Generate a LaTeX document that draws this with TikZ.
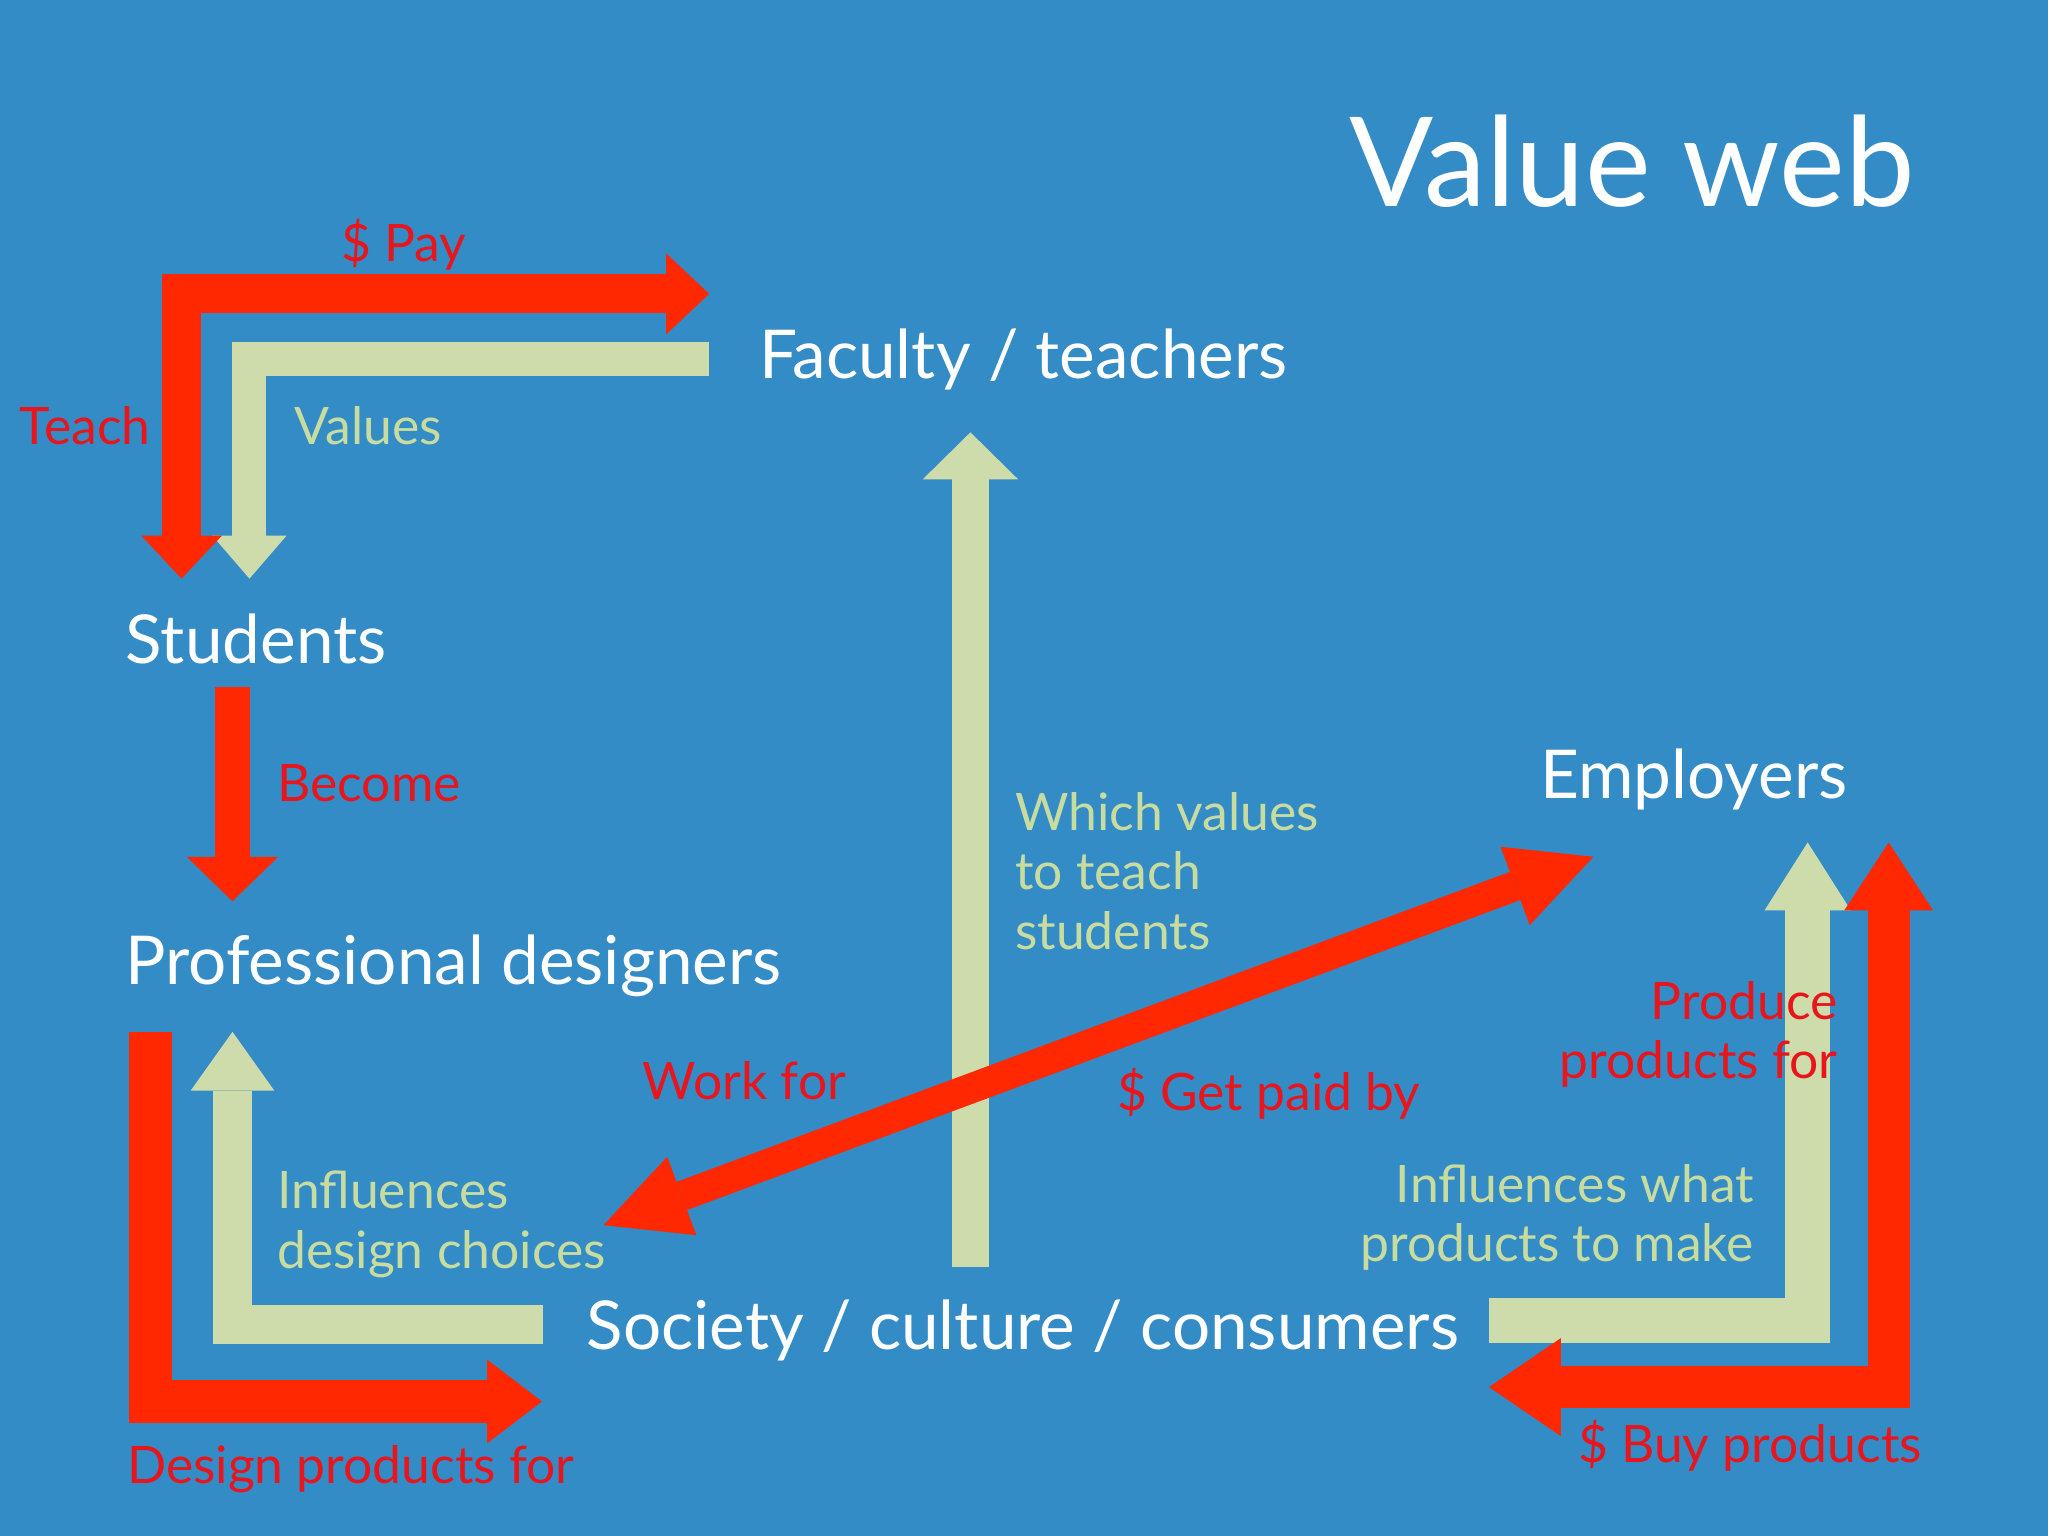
\documentclass[tikz,border=0pt]{standalone}
\usepackage{fontspec}
\setmainfont{Lato}
\usetikzlibrary{arrows.meta}
\definecolor{bgblue}{RGB}{52,140,199}
\definecolor{arrowred}{RGB}{255,40,0}
\definecolor{textred}{RGB}{232,22,28}
\definecolor{cream}{RGB}{205,220,170}
\definecolor{creamtext}{RGB}{200,220,160}
\begin{document}
\begin{tikzpicture}[x=0.025cm,y=-0.025cm,
  titletext/.style={text=white,inner sep=0pt,anchor=base west,font=\fontsize{67.7}{70}\selectfont},
  maintext/.style={text=white,inner sep=0pt,anchor=base west,font=\fontsize{36.7}{44}\selectfont},
  redlabel/.style={text=textred,inner sep=0pt,anchor=base west,font=\fontsize{28.1}{32.5}\selectfont},
  creamlabel/.style={text=creamtext,inner sep=0pt,anchor=base west,font=\fontsize{28.1}{32.5}\selectfont},
  redflow/.style={draw=arrowred,line join=miter,line cap=butt},
  creamflow/.style={draw=cream,line join=miter,line cap=butt}]
\useasboundingbox (0,0) rectangle (1568,1176);
\fill[bgblue] (0,0) rectangle (1568,1176);

% arrow end points
\coordinate (a1) at (139,443); \coordinate (a2) at (139,225); \coordinate (a3) at (543,225);
\coordinate (b1) at (543,275); \coordinate (b2) at (191,275); \coordinate (b3) at (191,443);
\coordinate (c1) at (178,526); \coordinate (c2) at (178,690);
\coordinate (d1) at (115,790); \coordinate (d2) at (115,1073); \coordinate (d3) at (415,1073);
\coordinate (e1) at (416,1014); \coordinate (e2) at (178,1014); \coordinate (e3) at (178,790);
\coordinate (f1) at (743,970); \coordinate (f2) at (743,331);
\coordinate (g1) at (462,938); \coordinate (g2) at (1220,656);
\coordinate (h1) at (1140,1011); \coordinate (h2) at (1384,1011); \coordinate (h3) at (1384,645);
\coordinate (i1) at (1140,1062); \coordinate (i2) at (1446,1062); \coordinate (i3) at (1446,645);

% arrows
\draw[creamflow,line width=0.65cm,-{Triangle[width=1.425cm,length=0.825cm,line width=0pt]}] (b1) -- (b2) -- (b3);
\draw[redflow,line width=0.75cm,{Triangle[width=1.55cm,length=0.825cm,line width=0pt]}-{Triangle[width=1.55cm,length=0.825cm,line width=0pt]}] (a1) -- (a2) -- (a3);
\draw[redflow,line width=0.675cm,-{Triangle[width=1.75cm,length=0.85cm,line width=0pt]}] (c1) -- (c2);
\draw[redflow,line width=0.825cm,-{Triangle[width=1.6cm,length=1.05cm,line width=0pt]}] (d1) -- (d2) -- (d3);
\draw[creamflow,line width=0.75cm,-{Triangle[width=1.6cm,length=1.125cm,line width=0pt]}] (e1) -- (e2) -- (e3);
\draw[creamflow,line width=0.7cm,-{Triangle[width=1.825cm,length=0.9cm,line width=0pt]}] (f1) -- (f2);
\draw[redflow,line width=0.575cm,{Triangle[width=1.6cm,length=1.6cm,line width=0pt]}-{Triangle[width=1.6cm,length=1.6cm,line width=0pt]}] (g1) -- (g2);
\draw[creamflow,line width=0.85cm,-{Triangle[width=1.65cm,length=1.3cm,line width=0pt]}] (h1) -- (h2) -- (h3);
\draw[redflow,line width=0.8cm,{Triangle[width=1.875cm,length=1.375cm,line width=0pt]}-{Triangle[width=1.7cm,length=1.3cm,line width=0pt]}] (i1) -- (i2) -- (i3);

% main nodes
\node[titletext] (title) at (1033,158) {Value web};
\node[maintext] (faculty) at (581,290) {Faculty / teachers};
\node[maintext] (students) at (96,508) {Students};
\node[maintext] (employers) at (1179,611) {Employers};
\node[maintext] (designers) at (96,754) {Professional designers};
\node[maintext] (society) at (449,1033) {Society / culture / consumers};

% labels (multi-line nodes are placed by the baseline of their last line)
\node[redlabel] (pay) at (261,200) {\$ Pay};
\node[redlabel] (teach) at (15,340) {Teach};
\node[creamlabel] (values) at (225,340) {Values};
\node[redlabel] (become) at (212,614) {Become};
\node[creamlabel,align=left] (which) at (777,727) {Which values\\to teach\\students};
\node[redlabel] (workfor) at (492,842) {Work for};
\node[redlabel] (getpaid) at (855,850) {\$ Get paid by};
\node[redlabel,align=right,anchor=base east] (produce) at (1407,826) {Produce\\products for};
\node[creamlabel,align=right,anchor=base east] (influwhat) at (1343,966) {Influences what\\products to make};
\node[creamlabel,align=left] (infludesign) at (212,971) {Influences\\design choices};
\node[redlabel] (designfor) at (97,1136) {Design products for};
\node[redlabel] (buy) at (1208,1120) {\$ Buy products};
\end{tikzpicture}
\end{document}
